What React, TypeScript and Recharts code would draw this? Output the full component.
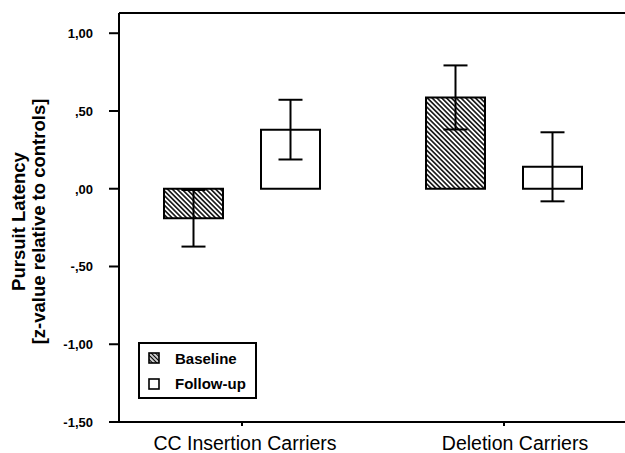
import React from 'react';
import { BarChart, Bar, XAxis, YAxis, ErrorBar, ReferenceLine } from 'recharts';

const categories = ['CC Insertion Carriers', 'Deletion Carriers'];
const baselineMeans = [-0.19, 0.587];
const baselineErrors = [0.182, 0.206];
const followUpMeans = [0.38, 0.141];
const followUpErrors = [0.192, 0.222];
const seriesNames = ['Baseline', 'Follow-up'];
const yTicks = [-1.5, -1, -0.5, 0, 0.5, 1];
const yTickLabels = ['-1,50', '-1,00', '-,50', ',00', ',50', '1,00'];
const yDomainMax = 1.13;

const data = categories.map((c, i) => ({
  category: c,
  baseline: baselineMeans[i],
  baselineErr: baselineErrors[i],
  followUp: followUpMeans[i],
  followUpErr: followUpErrors[i],
}));

const FONT = "'Liberation Sans', Arial, sans-serif";
const X_LABEL_SHIFT = [3, 11];

const XTick = (props: any) => {
  const { x, y, payload, index } = props;
  return (
    <text x={x + (X_LABEL_SHIFT[index] ?? 0)} y={y} dy="0.71em" textAnchor="middle" fontFamily={FONT} fontSize={19.5} fill="#000">
      {payload.value}
    </text>
  );
};

const YTick = (props: any) => {
  const { x, y, payload } = props;
  const idx = yTicks.indexOf(payload.value);
  return (
    <text x={x} y={y} dy={5} textAnchor="end" fontFamily={FONT} fontSize={13} fontWeight="bold" fill="#000">
      {idx >= 0 ? yTickLabels[idx] : payload.value}
    </text>
  );
};

const YLabel = (props: any) => {
  const vb = props.viewBox || {};
  const cy = (vb.y ?? 13) + (vb.height ?? 409) / 2 + 4;
  return (
    <g>
      <text x={19} y={cy} transform={`rotate(-90, 19, ${cy})`} textAnchor="middle" dy={6} fontFamily={FONT} fontSize={18.5} fontWeight="bold" fill="#000">
        Pursuit Latency
      </text>
      <text x={39} y={cy} transform={`rotate(-90, 39, ${cy})`} textAnchor="middle" dy={6} fontFamily={FONT} fontSize={18.5} fontWeight="bold" fill="#000">
        [z-value relative to controls]
      </text>
    </g>
  );
};

const LegendBox = () => (
  <div
    style={{
      position: 'absolute',
      left: 138,
      top: 342,
      width: 115,
      height: 53,
      border: '2px solid #000',
      background: '#fff',
      fontFamily: FONT,
      fontSize: 15,
      fontWeight: 'bold',
      color: '#000',
      boxSizing: 'content-box',
    }}
  >
    <div style={{ display: 'flex', alignItems: 'center', height: 26, marginTop: 1, paddingLeft: 8 }}>
      <svg width={12} height={12} style={{ marginRight: 15 }}>
        <rect x={1} y={1} width={10} height={10} fill="url(#hatchLegend)" stroke="#000" strokeWidth={1.6} />
      </svg>
      {seriesNames[0]}
    </div>
    <div style={{ display: 'flex', alignItems: 'center', height: 25, paddingLeft: 8 }}>
      <svg width={12} height={12} style={{ marginRight: 15 }}>
        <rect x={1} y={1} width={10} height={10} fill="#fff" stroke="#000" strokeWidth={1.6} />
      </svg>
      {seriesNames[1]}
    </div>
  </div>
);

export default function App() {
  return (
    <div style={{ position: 'absolute', left: 0, top: 0, width: 625, height: 453, overflow: 'hidden', background: '#fff' }}>
      <svg width={0} height={0} style={{ position: 'absolute' }}>
        <defs>
          <pattern id="hatch" patternUnits="userSpaceOnUse" width={3.4} height={3.4} patternTransform="rotate(-45)">
            <rect width={3.4} height={3.4} fill="#fff" />
            <line x1={1.7} y1={0} x2={1.7} y2={3.4} stroke="#000" strokeWidth={1.5} />
          </pattern>
          <pattern id="hatchLegend" patternUnits="userSpaceOnUse" width={3} height={3} patternTransform="rotate(-45)">
            <rect width={3} height={3} fill="#fff" />
            <line x1={1.5} y1={0} x2={1.5} y2={3} stroke="#000" strokeWidth={1.4} />
          </pattern>
        </defs>
      </svg>
      <BarChart
        width={640}
        height={453}
        data={data}
        margin={{ top: 13, right: 5, bottom: 0, left: 0 }}
        barSize={59}
        barGap={38}
      >
        <XAxis
          dataKey="category"
          height={31}
          padding={{ left: -8, right: 0 }}
          axisLine={{ stroke: '#000', strokeWidth: 2 }}
          tickLine={{ stroke: '#000', strokeWidth: 2 }}
          tickSize={4}
          tickMargin={10}
          tick={<XTick />}
          interval={0}
        />
        <YAxis
          width={119}
          domain={[-1.5, yDomainMax]}
          ticks={yTicks}
          allowDataOverflow
          axisLine={{ stroke: '#000', strokeWidth: 2 }}
          tickLine={{ stroke: '#000', strokeWidth: 2 }}
          tickSize={10}
          tickMargin={16}
          tick={<YTick />}
          label={<YLabel />}
        />
        <ReferenceLine y={yDomainMax} stroke="#000" strokeWidth={2} ifOverflow="extendDomain" />
        <Bar dataKey="baseline" name={seriesNames[0]} fill="url(#hatch)" stroke="#000" strokeWidth={2} isAnimationActive={false}>
          <ErrorBar dataKey="baselineErr" width={12} stroke="#000" strokeWidth={2} />
        </Bar>
        <Bar dataKey="followUp" name={seriesNames[1]} fill="#fff" stroke="#000" strokeWidth={2} isAnimationActive={false}>
          <ErrorBar dataKey="followUpErr" width={12} stroke="#000" strokeWidth={2} />
        </Bar>
      </BarChart>
      <LegendBox />
    </div>
  );
}
